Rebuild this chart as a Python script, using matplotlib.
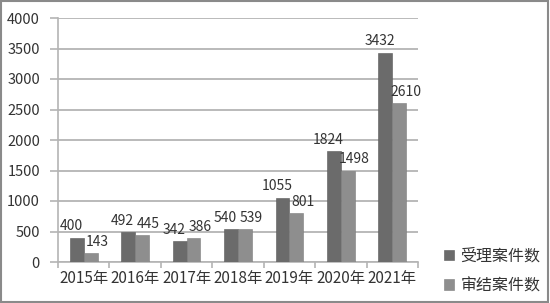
import matplotlib
matplotlib.use("Agg")
import matplotlib.pyplot as plt
from matplotlib.patches import Rectangle
import numpy as np

plt.rcParams['font.family'] = ['Noto Sans CJK SC', 'DejaVu Sans']

years = ["2015年", "2016年", "2017年", "2018年", "2019年", "2020年", "2021年"]
accepted = [400, 492, 342, 540, 1055, 1824, 3432]
concluded = [143, 445, 386, 539, 801, 1498, 2610]
series_names = ["受理案件数", "审结案件数"]

c1 = "#6b6b6b"
c2 = "#8e8e8e"
grid_c = "#b4b4b4"
text_c = "#333333"

fig = plt.figure(figsize=(5.5, 3.03), dpi=100)
ax = fig.add_axes([58/550, 1-262/303, 360/550, 244/303])

x = np.arange(len(years))
w = 0.27
b1 = ax.bar(x - w/2, accepted, w, color=c1, edgecolor="#5a5a5a", linewidth=0.4, zorder=3)
b2 = ax.bar(x + w/2, concluded, w, color=c2, edgecolor="#7e7e7e", linewidth=0.4, zorder=3)

for xi, v in zip(x, accepted):
    ax.annotate(str(v), (xi - w/2, v), xytext=(-4, 3), textcoords="offset points",
                ha="center", va="bottom", fontsize=10, color=text_c)
for xi, v in zip(x, concluded):
    ax.annotate(str(v), (xi + w/2, v), xytext=(4.5, 3), textcoords="offset points",
                ha="center", va="bottom", fontsize=10, color=text_c)

ax.set_xlim(-0.5, len(years) - 0.5)
ax.set_ylim(0, 4000)
ax.set_yticks(np.arange(0, 4001, 500))
ax.yaxis.grid(True, color=grid_c, linewidth=1.3, zorder=0)
ax.set_axisbelow(True)

ax.set_xticks(x)
ax.set_xticklabels(years, fontsize=11, color=text_c)
ax.set_xticks(np.arange(-0.5, len(years), 1), minor=True)
ax.tick_params(axis='x', which='major', length=0, pad=6)
ax.tick_params(axis='x', which='minor', length=4, color=grid_c, width=1.2)
ax.tick_params(axis='y', length=6, color=grid_c, width=1.2, labelsize=10.5, labelcolor=text_c, pad=7)

for s in ["top", "right"]:
    ax.spines[s].set_visible(False)
ax.spines["left"].set_color(grid_c)
ax.spines["left"].set_linewidth(1.2)
ax.spines["bottom"].set_color(grid_c)
ax.spines["bottom"].set_linewidth(1.2)

leg = fig.legend([b1, b2], series_names, loc="upper left", bbox_to_anchor=(430/550, 1-233/303),
                 frameon=False, fontsize=11.5, handlelength=0.6, handleheight=0.6,
                 handletextpad=0.4, labelspacing=0.8, labelcolor=text_c)

fig.patches.append(Rectangle((0.002, 0.003), 0.995, 0.993, transform=fig.transFigure,
                             fill=False, edgecolor="#8a8a8a", linewidth=1.5))

fig.savefig("out.png", dpi=100)
